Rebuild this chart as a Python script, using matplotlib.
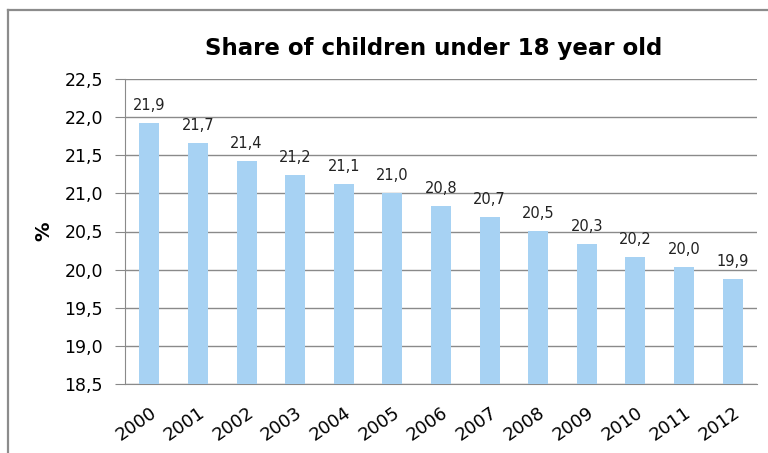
import matplotlib.pyplot as plt
from matplotlib.lines import Line2D

years = ['2000', '2001', '2002', '2003', '2004', '2005', '2006',
         '2007', '2008', '2009', '2010', '2011', '2012']
share = [21.92, 21.66, 21.42, 21.24, 21.12, 21.0, 20.84,
         20.69, 20.51, 20.34, 20.17, 20.03, 19.88]
yticks = [18.5, 19.0, 19.5, 20.0, 20.5, 21.0, 21.5, 22.0, 22.5]

plt.rcParams['font.family'] = ['DejaVu Sans']

fig = plt.figure(figsize=(7.68, 4.53), dpi=100)
ax = fig.add_axes([125/768, 69/453, 632/768, 305/453])

x = range(len(years))
ax.bar(x, [v - 18.5 for v in share], bottom=18.5, width=0.41,
       color='#a7d2f3', zorder=3)

for i, v in zip(x, share):
    ax.text(i, v + 0.13, f'{v:.1f}'.replace('.', ','), ha='center',
            va='bottom', fontsize=10.5, color='#222222')

ax.set_xlim(-0.5, len(years) - 0.5)
ax.set_ylim(18.5, 22.5)
ax.set_yticks(yticks)
ax.set_yticklabels([f'{t:.1f}'.replace('.', ',') for t in yticks], fontsize=12.5)
ax.set_xticks(list(x))
ax.set_xticklabels(years, rotation=35, ha='right', rotation_mode='anchor',
                   fontsize=13)
ax.tick_params(axis='x', length=0, pad=14)
ax.tick_params(axis='y', length=7, color='#888888', pad=9, direction='out')
ax.grid(axis='y', color='#8a8a8a', linewidth=1, zorder=0)

for s in ['top', 'right']:
    ax.spines[s].set_visible(False)
ax.spines['left'].set_color('#8a8a8a')
ax.spines['bottom'].set_color('#8a8a8a')

ax.set_ylabel('%', fontsize=14, fontweight='bold', labelpad=8)
fig.text(434/768, 1 - 48/453, 'Share of children under 18 year old',
         ha='center', va='center', fontsize=16.5, fontweight='bold')

# chart border (cut off on the right and bottom)
fig.add_artist(Line2D([8/768, 8/768], [0, 1 - 10/453], transform=fig.transFigure,
                      color='#8c8c8c', linewidth=1.6))
fig.add_artist(Line2D([8/768, 1], [1 - 10/453, 1 - 10/453], transform=fig.transFigure,
                      color='#8c8c8c', linewidth=1.6))

fig.savefig('out.png', dpi=100)
